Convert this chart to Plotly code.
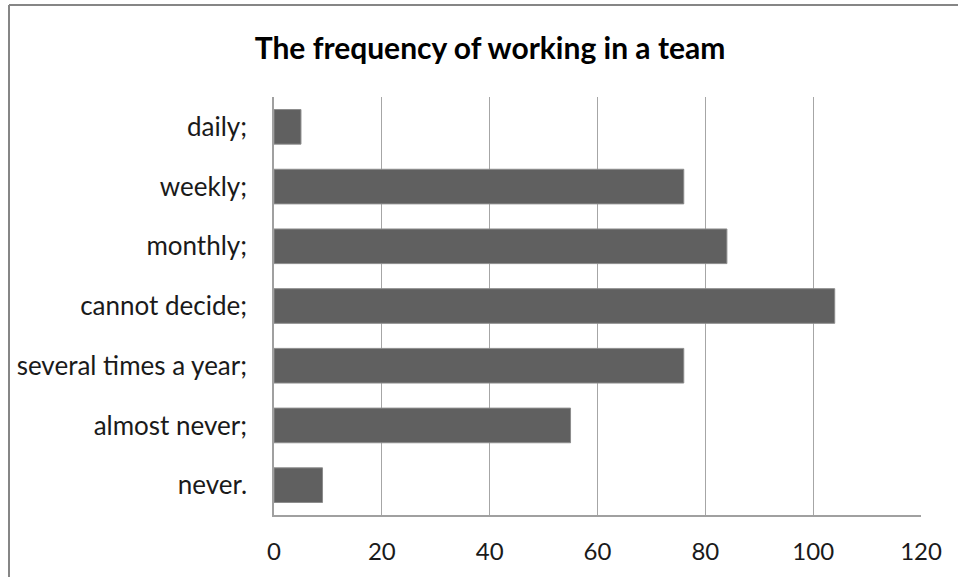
import plotly.graph_objects as go

# Survey answers and number of respondents per answer
categories = [
    "daily;",
    "weekly;",
    "monthly;",
    "cannot decide;",
    "several times a year;",
    "almost never;",
    "never.",
]
counts = [5, 76, 84, 104, 76, 55, 9]
x_ticks = [0, 20, 40, 60, 80, 100, 120]

W, H = 958, 577
# plot area in pixels
PL, PR, PT, PB = 274, 921, 97, 515

FONT = "Lato"


def px_x(p):
    return (p - PL) / (PR - PL)


def px_y(p):
    return (PB - p) / (PB - PT)


fig = go.Figure(
    go.Bar(
        x=counts,
        y=categories,
        orientation="h",
        marker=dict(color="#606060", line=dict(color="#8c8c8c", width=1)),
        width=0.58,
        hoverinfo="x+y",
    )
)

fig.update_layout(
    width=W,
    height=H,
    margin=dict(l=PL, r=W - PR, t=PT, b=H - PB),
    paper_bgcolor="white",
    plot_bgcolor="white",
    showlegend=False,
    title=dict(
        text="<b>The frequency of working in a team</b>",
        x=490 / W,
        xanchor="center",
        xref="container",
        y=1 - 48 / H,
        yanchor="middle",
        yref="container",
        font=dict(family=FONT, size=30, color="#000000"),
    ),
    xaxis=dict(
        range=[0, 120],
        tickvals=x_ticks,
        showgrid=True,
        gridcolor="#a6a6a6",
        gridwidth=1,
        showline=True,
        linecolor="#a0a0a0",
        linewidth=1.5,
        zeroline=False,
        ticks="",
        ticklabelstandoff=14,
        tickfont=dict(family=FONT, size=24, color="#1a1a1a"),
        fixedrange=True,
    ),
    yaxis=dict(
        categoryorder="array",
        categoryarray=categories[::-1],
        showgrid=False,
        showline=True,
        linecolor="#a0a0a0",
        linewidth=1.5,
        ticks="",
        ticklabelstandoff=20,
        tickfont=dict(family=FONT, size=26, color="#1a1a1a"),
        fixedrange=True,
    ),
    shapes=[
        # chart frame (left and top edges)
        dict(type="line", xref="paper", yref="paper",
             x0=px_x(9), x1=px_x(9), y0=px_y(H + 5), y1=px_y(5),
             line=dict(color="#868686", width=2)),
        dict(type="line", xref="paper", yref="paper",
             x0=px_x(9), x1=px_x(W + 5), y0=px_y(5), y1=px_y(5),
             line=dict(color="#868686", width=2)),
    ],
)

fig.write_html("out.html")
